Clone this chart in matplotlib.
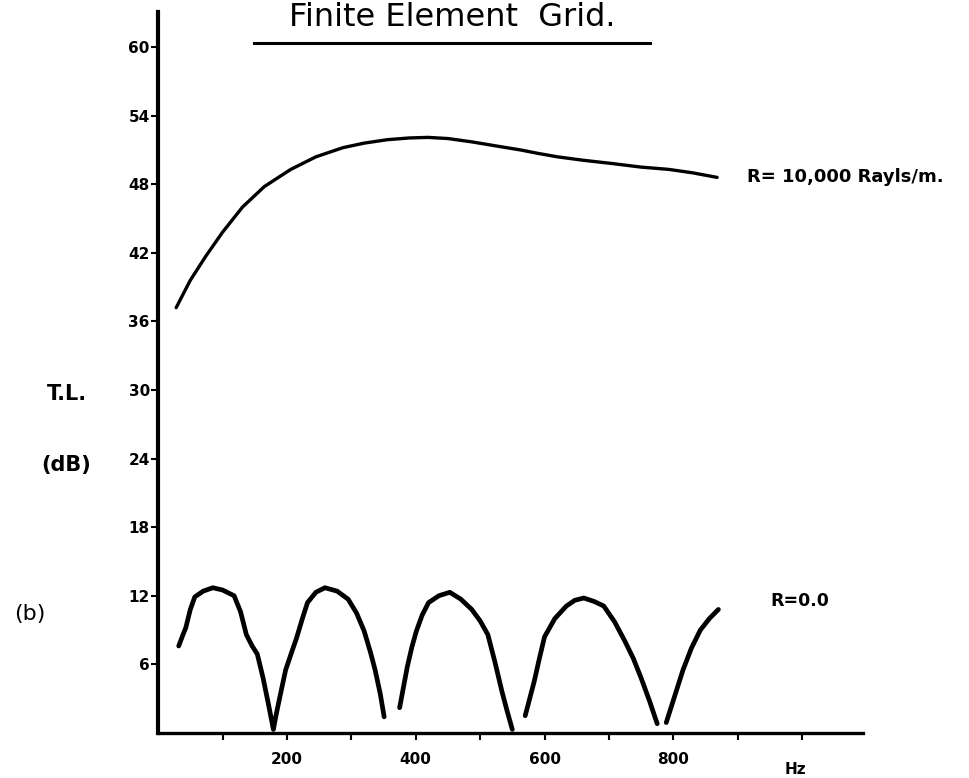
import matplotlib.pyplot as plt
import numpy as np
from matplotlib.lines import Line2D

# transmission loss (dB) vs frequency (Hz), R = 10,000 rayls/m
freq_hi = [28, 50, 74, 100, 131, 165, 206, 245, 287, 320, 356, 390, 419, 450, 488, 525, 563,
           590, 620, 660, 707, 750, 793, 830, 868]
tl_hi = [37.2, 39.6, 41.7, 43.8, 46.0, 47.8, 49.3, 50.4, 51.2, 51.6, 51.9, 52.05, 52.1, 52.0, 51.7,
         51.35, 51.0, 50.7, 50.4, 50.1, 49.8, 49.5, 49.3, 49.0, 48.6]

# R = 0.0, drawn as four separate strokes (nan = pen lifted)
freq_lo = [32, 38, 43, 50, 57, 70, 85, 100, 118, 128, 137, 146, 154, 163, 171, 179,
           183, 187, 198, 207, 215, 224, 232, 245, 259, 278, 295, 308, 320, 330, 337, 345, 351, np.nan,
           375, 381, 387, 394, 401, 410, 420, 436, 453, 470, 487, 500, 512, 523, 534, 542, 550, np.nan,
           570, 577, 584, 592, 600, 616, 634, 647, 661, 677, 692, 709, 725, 738, 750, 763, 775, np.nan,
           789, 802, 815, 828, 842, 856, 870]
tl_lo = [7.6, 8.5, 9.2, 10.8, 11.9, 12.4, 12.7, 12.5, 12.0, 10.6, 8.6, 7.6, 6.9, 4.8, 2.6, 0.3,
         1.5, 2.6, 5.5, 7.0, 8.3, 10.0, 11.4, 12.3, 12.7, 12.4, 11.7, 10.5, 8.9, 7.0, 5.5, 3.4, 1.4, np.nan,
         2.2, 4.0, 5.8, 7.5, 8.9, 10.3, 11.4, 12.0, 12.3, 11.7, 10.8, 9.8, 8.6, 6.2, 3.6, 1.9, 0.3, np.nan,
         1.5, 3.0, 4.5, 6.5, 8.4, 10.0, 11.1, 11.6, 11.8, 11.5, 11.1, 9.7, 8.0, 6.5, 4.8, 2.8, 0.8, np.nan,
         0.9, 3.2, 5.5, 7.4, 9.0, 10.0, 10.8]

y_ticks = [6, 12, 18, 24, 30, 36, 42, 48, 54, 60]
x_ticks = [100, 200, 300, 400, 500, 600, 700, 800, 900, 1000]
x_labels = ['', '200', '', '400', '', '600', '', '800', '', '']

fig = plt.figure(figsize=(9.7, 7.78), dpi=100)
ax = fig.add_axes([0.163, 0.058, 0.727, 0.927])

ax.plot(freq_hi, tl_hi, color='black', lw=2.4, solid_capstyle='round', solid_joinstyle='round')
ax.plot(freq_lo, tl_lo, color='black', lw=3.4, solid_capstyle='round', solid_joinstyle='round')

ax.set_xlim(0, 1095)
ax.set_ylim(0, 63.1)
ax.set_yticks(y_ticks)
ax.set_yticklabels([str(v) for v in y_ticks], fontsize=11, fontweight='bold')
ax.set_xticks(x_ticks)
ax.set_xticklabels(x_labels, fontsize=11, fontweight='bold')
ax.tick_params(axis='y', direction='out', length=5, width=1.5, pad=1)
ax.tick_params(axis='x', direction='out', length=5, width=1.5, pad=9)

for side in ['top', 'right']:
    ax.spines[side].set_visible(False)
ax.spines['left'].set_linewidth(3)
ax.spines['bottom'].set_linewidth(2.4)

ax.text(915, 48.6, 'R= 10,000 Rayls/m.', fontsize=13, fontweight='bold', va='center', ha='left',
        clip_on=False)
ax.text(950, 11.5, 'R=0.0', fontsize=12.5, fontweight='bold', va='center', ha='left', clip_on=False)
ax.text(989, -3.2, 'Hz', fontsize=11, fontweight='bold', va='center', ha='center', clip_on=False)

fig.text(0.069, 1 - 394 / 778, 'T.L.', fontsize=15, fontweight='bold', va='center', ha='center')
fig.text(0.068, 1 - 465 / 778, '(dB)', fontsize=15, fontweight='bold', va='center', ha='center')
fig.text(0.031, 1 - 614 / 778, '(b)', fontsize=16, va='center', ha='center')

fig.text(0.466, 1 - 18 / 778, 'Finite Element  Grid.', fontsize=23, va='center', ha='center')
fig.add_artist(Line2D([254 / 970, 650 / 970], [1 - 43 / 778, 1 - 43 / 778],
                      transform=fig.transFigure, color='black', lw=2.2))

fig.savefig('out.png', dpi=100)
